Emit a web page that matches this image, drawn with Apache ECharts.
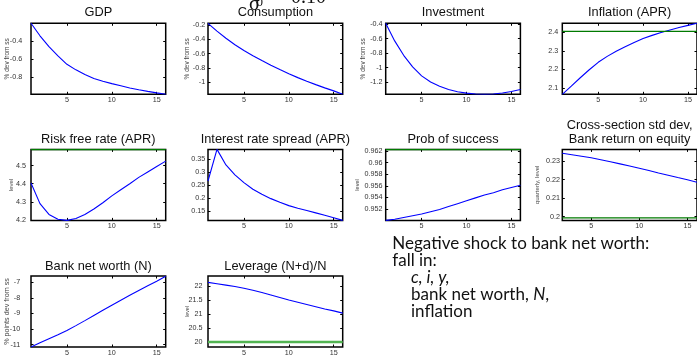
<!DOCTYPE html>
<html>
<head>
<meta charset="utf-8">
<script src="https://cdn.jsdelivr.net/npm/echarts@6/dist/echarts.min.js"></script>
<style>
  html, body { margin: 0; padding: 0; background: #fff; }
  #chart { width: 697px; height: 357px; }
</style>
</head>
<body>
<div id="chart"></div>
<script>
// Impulse responses to a negative bank net worth shock (quarters 1..16)
const periods = [1, 2, 3, 4, 5, 6, 7, 8, 9, 10, 11, 12, 13, 14, 15, 16];
const crossPeriods = [2, 3, 4, 5, 6, 7, 8, 9, 10, 11, 12, 13, 14, 15, 16];
const xTicks = [5, 10, 15];

const gdp = [-0.200, -0.340, -0.462, -0.566, -0.660, -0.722, -0.775, -0.818, -0.850, -0.876, -0.900, -0.925, -0.945, -0.963, -0.980, -0.996];
const consumption = [-0.176, -0.285, -0.385, -0.475, -0.556, -0.628, -0.697, -0.762, -0.823, -0.880, -0.935, -0.985, -1.033, -1.078, -1.120, -1.168];
const investment = [-0.386, -0.630, -0.830, -0.990, -1.115, -1.200, -1.260, -1.305, -1.335, -1.355, -1.367, -1.371, -1.366, -1.352, -1.332, -1.305];
const inflation = [2.066, 2.110, 2.155, 2.198, 2.238, 2.270, 2.298, 2.322, 2.345, 2.366, 2.383, 2.398, 2.412, 2.425, 2.437, 2.448];
const inflationSS = 2.405;
const riskFree = [4.404, 4.290, 4.230, 4.203, 4.197, 4.208, 4.230, 4.260, 4.295, 4.333, 4.367, 4.400, 4.435, 4.465, 4.495, 4.525];
const riskFreeSS = 4.59;
const spread = [0.266, 0.388, 0.328, 0.290, 0.260, 0.234, 0.215, 0.198, 0.184, 0.171, 0.161, 0.152, 0.143, 0.134, 0.124, 0.114];
const probSuccess = [0.9500, 0.9502, 0.9505, 0.9508, 0.9511, 0.9515, 0.9519, 0.9524, 0.9529, 0.9534, 0.9539, 0.9544, 0.9548, 0.9553, 0.9557, 0.9561];
const probSuccessSS = 0.9623;
const crossSd = [0.2342, 0.2334, 0.2326, 0.2318, 0.2307, 0.2296, 0.2285, 0.2273, 0.2261, 0.2249, 0.2236, 0.2224, 0.2211, 0.2199, 0.2186];
const crossSdSS = 0.1994;
const netWorth = [-11.15, -10.88, -10.62, -10.36, -10.09, -9.78, -9.46, -9.13, -8.80, -8.47, -8.15, -7.84, -7.53, -7.23, -6.93, -6.62];
const leverage = [22.13, 22.08, 22.03, 21.98, 21.92, 21.85, 21.77, 21.68, 21.59, 21.50, 21.42, 21.34, 21.26, 21.18, 21.11, 21.03];
const leverageSS = 20;

const gdpTicks = [-0.8, -0.6, -0.4];
const consumptionTicks = [-1, -0.8, -0.6, -0.4, -0.2];
const investmentTicks = [-1.2, -1, -0.8, -0.6, -0.4];
const inflationTicks = [2.1, 2.2, 2.3, 2.4];
const riskFreeTicks = [4.2, 4.3, 4.4, 4.5];
const spreadTicks = [0.15, 0.2, 0.25, 0.3, 0.35];
const probTicks = [0.952, 0.954, 0.956, 0.958, 0.96, 0.962];
const crossTicks = [0.2, 0.21, 0.22, 0.23];
const netWorthTicks = [-11, -10, -9, -8, -7];
const leverageTicks = [20, 20.5, 21, 21.5, 22];

// panel grid geometry
const colLeft = [31, 208, 385.7, 562.3];
const boxW = 134.7;
const rowTop = [23.3, 149.4, 276];
const boxH = 71;

const SANS = 'Liberation Sans, Arial, sans-serif';
const DARK_GREEN = '#007a00';

const panels = [
  { title: ['GDP'], col: 0, row: 0, x: periods, y: gdp, ticks: gdpTicks, yMin: -0.996, yMax: -0.2,
    yName: '% dev from ss', nameX: 7, nameSize: 6.5, labelGap: 8 },
  { title: ['Consumption'], col: 1, row: 0, x: periods, y: consumption, ticks: consumptionTicks, yMin: -1.168, yMax: -0.176,
    yName: '% dev from ss', nameX: 187.5, nameSize: 6.5, labelGap: 2 },
  { title: ['Investment'], col: 2, row: 0, x: periods, y: investment, ticks: investmentTicks, yMin: -1.371, yMax: -0.386,
    yName: '% dev from ss', nameX: 363.5, nameSize: 6.5, labelGap: 2.4 },
  { title: ['Inflation (APR)'], col: 3, row: 0, x: periods, y: inflation, ticks: inflationTicks, yMin: 2.066, yMax: 2.448,
    ss: inflationSS, ssColor: DARK_GREEN, ssWidth: 1.2, labelGap: 3.3 },
  { title: ['Risk free rate (APR)'], col: 0, row: 1, x: periods, y: riskFree, ticks: riskFreeTicks, yMin: 4.197, yMax: 4.59,
    ss: riskFreeSS, ssColor: DARK_GREEN, ssWidth: 1.5, yName: 'level', nameX: 11, nameSize: 6, labelGap: 4.3 },
  { title: ['Interest rate spread (APR)'], col: 1, row: 1, x: periods, y: spread, ticks: spreadTicks, yMin: 0.114, yMax: 0.388,
    labelGap: 2 },
  { title: ['Prob of success'], col: 2, row: 1, x: periods, y: probSuccess, ticks: probTicks, yMin: 0.9500, yMax: 0.9623,
    ss: probSuccessSS, ssColor: DARK_GREEN, ssWidth: 1.5, yName: 'level', nameX: 357.5, nameSize: 5.6, labelGap: 2.4 },
  { title: ['Cross-section std dev,', 'Bank return on equity'], col: 3, row: 1, x: crossPeriods, y: crossSd, ticks: crossTicks,
    yMin: 0.198, yMax: 0.2363, ss: crossSdSS, ssColor: DARK_GREEN, ssWidth: 1.3,
    yName: 'quarterly, level', nameX: 537.5, nameSize: 6, labelGap: 1.5 },
  { title: ['Bank net worth (N)'], col: 0, row: 2, x: periods, y: netWorth, ticks: netWorthTicks, yMin: -11.15, yMax: -6.6,
    yName: '% points dev from ss', nameX: 7, nameSize: 7.2, labelGap: 10 },
  { title: ['Leverage (N+d)/N'], col: 1, row: 2, x: periods, y: leverage, ticks: leverageTicks, yMin: 19.82, yMax: 22.357,
    ss: leverageSS, ssColor: '#52b452', ssWidth: 2.4, yName: 'level', nameX: 187.5, nameSize: 5.2, labelGap: 4.7 }
];

const titleY = [12.6, 139.3, 266];

const fmt = v => String(Number(Number(v).toPrecision(6)));

const grids = [], xAxes = [], yAxes = [], series = [], graphics = [];

panels.forEach((p, i) => {
  const left = colLeft[p.col];
  const top = rowTop[p.row];
  grids.push({ left: left, top: top, width: boxW, height: boxH, show: true,
    borderColor: '#000', borderWidth: 1.5, backgroundColor: 'transparent' });

  const xMin = p.x[0], xMax = p.x[p.x.length - 1];
  const tick = { inside: true, length: 2.5, lineStyle: { color: '#000', width: 1 } };
  const xBase = { type: 'value', gridIndex: i, min: xMin, max: xMax,
    splitLine: { show: false }, axisLine: { show: false } };
  xAxes.push(Object.assign({}, xBase, { position: 'bottom',
    axisTick: Object.assign({ customValues: xTicks }, tick),
    axisLabel: { customValues: xTicks, fontSize: 7.2, color: '#333', margin: 2.2, fontFamily: SANS } }));
  xAxes.push(Object.assign({}, xBase, { position: 'top',
    axisTick: Object.assign({ customValues: xTicks }, tick), axisLabel: { show: false } }));

  const yBase = { type: 'value', gridIndex: i, min: p.yMin, max: p.yMax,
    splitLine: { show: false }, axisLine: { show: false } };
  yAxes.push(Object.assign({}, yBase, { position: 'left',
    axisTick: Object.assign({ customValues: p.ticks }, tick),
    axisLabel: { customValues: p.ticks, fontSize: 7.2, color: '#333', margin: p.labelGap + 0.75,
      fontFamily: SANS, formatter: fmt } }));
  yAxes.push(Object.assign({}, yBase, { position: 'right',
    axisTick: Object.assign({ customValues: p.ticks }, tick), axisLabel: { show: false } }));

  series.push({ type: 'line', xAxisIndex: 2 * i, yAxisIndex: 2 * i,
    data: p.x.map((t, k) => [t, p.y[k]]), symbol: 'none', clip: true, silent: true,
    lineStyle: { color: '#0000ff', width: 1.1 } });
  if (p.ss != null) {
    series.push({ type: 'line', xAxisIndex: 2 * i, yAxisIndex: 2 * i,
      data: p.x.map(t => [t, p.ss]), symbol: 'none', clip: true, silent: true,
      lineStyle: { color: p.ssColor, width: p.ssWidth } });
  }

  // panel title
  const cx = left + boxW / 2;
  if (p.title.length === 1) {
    graphics.push({ type: 'text', x: cx, y: titleY[p.row], silent: true,
      style: { text: p.title[0], font: '12.8px ' + SANS, fill: '#111', align: 'center', verticalAlign: 'middle' } });
  } else {
    graphics.push({ type: 'text', x: cx, y: 125.4, silent: true,
      style: { text: p.title[0], font: '12.8px ' + SANS, fill: '#111', align: 'center', verticalAlign: 'middle' } });
    graphics.push({ type: 'text', x: cx, y: 139, silent: true,
      style: { text: p.title[1], font: '12.8px ' + SANS, fill: '#111', align: 'center', verticalAlign: 'middle' } });
  }

  // y-axis name
  if (p.yName) {
    graphics.push({ type: 'text', x: p.nameX, y: top + boxH / 2, rotation: Math.PI / 2, silent: true,
      style: { text: p.yName, font: p.nameSize + 'px ' + SANS, fill: '#444', align: 'center', verticalAlign: 'middle' } });
  }
});

// note beside the bottom panels
const NOTE_FONT = 'Lato, "Open Sans", sans-serif';
const noteSize = 17;
const note = [
  { x: 392.3, y: 244, text: 'Negative shock to bank net worth:' },
  { x: 392.3, y: 260.8, text: 'fall in:' },
  { x: 411, y: 277.7, text: '{it|c, i, y,}' },
  { x: 411, y: 294.6, text: 'bank net worth, {it|N},' },
  { x: 411, y: 311.3, text: 'inflation' }
];
note.forEach(n => {
  graphics.push({ type: 'text', x: n.x, y: n.y, silent: true,
    style: { text: n.text, fontFamily: NOTE_FONT, fontSize: noteSize, fill: '#111',
      align: 'left', verticalAlign: 'middle',
      rich: { it: { fontFamily: NOTE_FONT, fontSize: noteSize, fontStyle: 'italic', fill: '#111' } } } });
});

// parameter caption running off the top edge
const SERIF = 'Liberation Serif, "DejaVu Serif", serif';
graphics.push({ type: 'text', x: 249, y: 4.5, silent: true,
  style: { text: 'σ', font: '20px ' + SERIF, fill: '#111', align: 'left', verticalAlign: 'middle' } });
graphics.push({ type: 'text', x: 256.5, y: 3, silent: true,
  style: { text: '0', font: '13px ' + SERIF, fill: '#111', align: 'left', verticalAlign: 'middle' } });
graphics.push({ type: 'text', x: 291, y: -2.5, silent: true,
  style: { text: '0.10', font: '20px ' + SERIF, fill: '#111', align: 'left', verticalAlign: 'middle' } });

const chart = echarts.init(document.getElementById('chart'), null, { renderer: 'canvas' });
chart.setOption({
  animation: false,
  backgroundColor: '#fff',
  grid: grids,
  xAxis: xAxes,
  yAxis: yAxes,
  series: series,
  graphic: graphics
});
</script>
</body>
</html>
